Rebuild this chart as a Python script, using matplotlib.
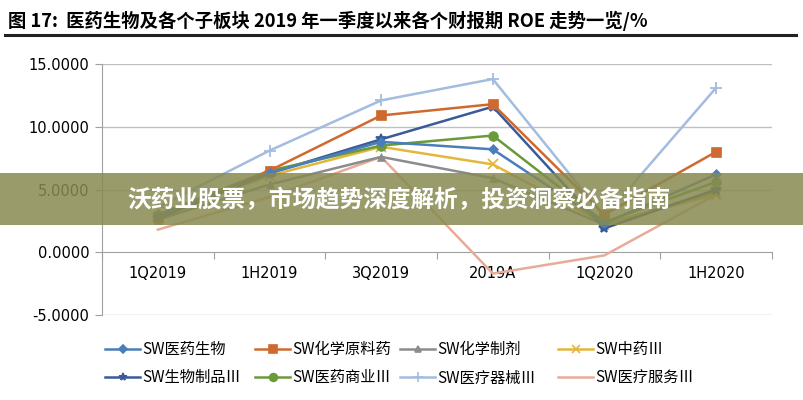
import matplotlib
matplotlib.use("Agg")
import matplotlib.pyplot as plt
from matplotlib.patches import Rectangle
from matplotlib.lines import Line2D

plt.rcParams['font.family'] = ['Noto Sans CJK SC', 'DejaVu Sans']

categories = ["1Q2019", "1H2019", "3Q2019", "2019A", "1Q2020", "1H2020"]
yticks = [-5, 0, 5, 10, 15]

s_yiyao = [2.9, 6.3, 8.8, 8.2, 2.3, 6.2]
s_yuanliao = [2.8, 6.5, 10.9, 11.8, 3.0, 8.0]
s_zhiji = [2.6, 5.4, 7.6, 5.9, 2.2, 4.8]
s_zhongyao = [2.8, 6.1, 8.4, 7.0, 2.3, 4.6]
s_shengwu = [2.7, 6.3, 9.0, 11.6, 1.9, 5.0]
s_shangye = [3.0, 6.5, 8.5, 9.3, 2.4, 5.6]
s_qixie = [3.6, 8.1, 12.1, 13.8, 2.8, 13.1]
s_fuwu = [1.8, 4.4, 7.6, -1.7, -0.25, 4.6]

names = ["SW医药生物", "SW化学原料药", "SW化学制剂", "SW中药Ⅲ",
         "SW生物制品Ⅲ", "SW医药商业Ⅲ", "SW医疗器械Ⅲ", "SW医疗服务Ⅲ"]
series = [s_yiyao, s_yuanliao, s_zhiji, s_zhongyao, s_shengwu, s_shangye, s_qixie, s_fuwu]
colors = ["#4a7ebb", "#d0692f", "#8c8c8c", "#e3b73c", "#3b5a9a", "#6a9a3a", "#a3bcdf", "#e8ab98"]
markers = ["D", "s", "^", "x", "*", "o", "+", None]
msizes = [5, 7, 6, 7, 7, 7, 9, 0]

fig = plt.figure(figsize=(8.04, 4.0), dpi=100)
ax = fig.add_axes([0.127, 0.2125, 0.833, 0.6275])

x = list(range(len(categories)))
order = [6, 7, 2, 3, 4, 5, 1, 0]
for k, i in enumerate(order):
    ax.plot(x, series[i], color=colors[i], lw=1.8, marker=markers[i],
            markersize=msizes[i], markeredgewidth=1.3 if markers[i] in ("x", "+", "*") else 0.5,
            markeredgecolor=colors[i], zorder=3 + k * 0.1)

ax.set_xlim(-0.5, len(categories) - 0.5)
ax.set_ylim(-5, 15)
ax.set_yticks(yticks)
ax.set_yticklabels([f"{v:.4f}" for v in yticks], fontsize=10.5, family='DejaVu Sans')
for v in yticks:
    if v != 0:
        ax.axhline(v, color="#c0c0c0", lw=1, zorder=1)

ax.spines['top'].set_visible(False)
ax.spines['right'].set_visible(False)
ax.spines['left'].set_color("#a0a0a0")
ax.spines['bottom'].set_position(('data', 0))
ax.spines['bottom'].set_color("#a0a0a0")
ax.tick_params(axis='y', length=5, color="#a0a0a0", direction='out', pad=4)
ax.set_xticks([i + 0.5 for i in range(-1, len(categories))], minor=False)
ax.set_xticklabels([])
ax.set_xticks(x, minor=True)
ax.set_xticklabels(categories, minor=True, fontsize=10.5, family='DejaVu Sans')
ax.tick_params(axis='x', which='major', length=5, color="#a0a0a0", direction='out')
ax.tick_params(axis='x', which='minor', length=0, pad=10)

# legend: 4 columns placed individually, row-major order
col_x = [105, 255, 400, 558]
for c in range(4):
    idx = [c, c + 4]
    hs = [Line2D([0], [0], color=colors[i], lw=1.8, marker=markers[i],
                 markersize=msizes[i] * 0.8, markeredgecolor=colors[i],
                 markeredgewidth=1.2) for i in idx]
    fig.legend(hs, [names[i] for i in idx], loc='upper left',
               bbox_to_anchor=(col_x[c] / 804, 1 - 341 / 400), ncol=1,
               frameon=False, fontsize=11, handlelength=2.3, handletextpad=0.15,
               labelspacing=0.75, borderaxespad=0, borderpad=0)

# title and rule
fig.text(8 / 804, 1 - 21 / 400, "图 17:  医药生物及各个子板块 2019 年一季度以来各个财报期 ROE 走势一览/%",
         fontsize=13.2, fontweight='bold', va='center', ha='left')
fig.add_artist(Line2D([0.006, 0.99], [1 - 35 / 400, 1 - 35 / 400], color="#222222", lw=2.2,
                      transform=fig.transFigure))

# banner overlay
fig.add_artist(Rectangle((0, 1 - 225 / 400), 1, 52 / 400, transform=fig.transFigure,
                         facecolor="#878a50", alpha=0.85, edgecolor='none', zorder=10))
fig.text(0.5 - 0.003, 1 - 200 / 400, "沃药业股票，市场趋势深度解析，投资洞察必备指南",
         fontsize=17, fontweight='bold', color='white', ha='center', va='center', zorder=11)

fig.savefig("out.png", dpi=100)
